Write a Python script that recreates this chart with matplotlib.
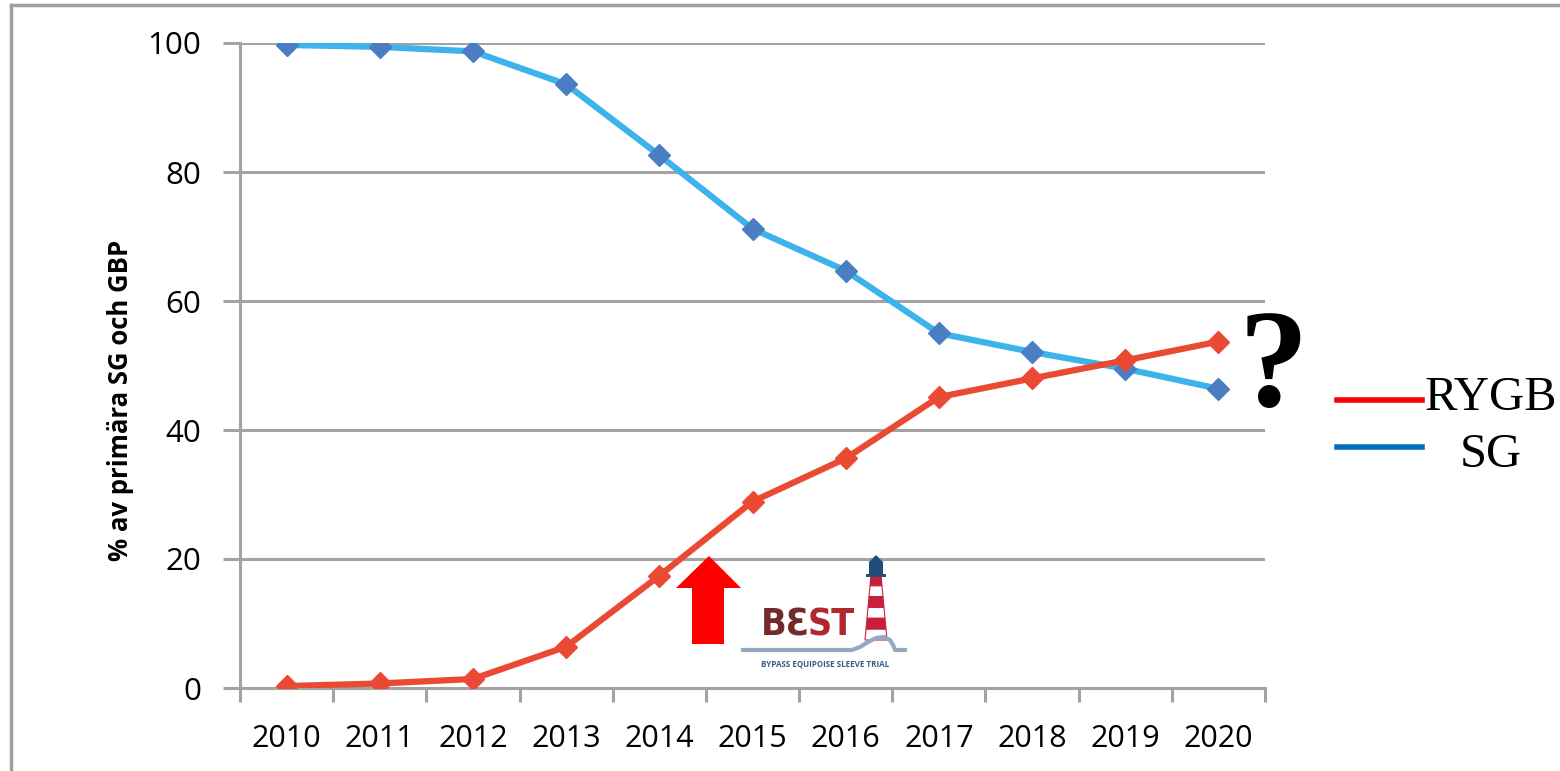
import matplotlib
matplotlib.use("Agg")
import matplotlib.pyplot as plt
from matplotlib.patches import Polygon, Rectangle
from matplotlib.lines import Line2D
import numpy as np

years = ["2010", "2011", "2012", "2013", "2014", "2015", "2016", "2017", "2018", "2019", "2020"]
rygb = [0.3, 0.7, 1.4, 6.4, 17.4, 28.9, 35.6, 45.1, 48.0, 50.8, 53.7]
sg = [99.7, 99.4, 98.7, 93.6, 82.6, 71.2, 64.7, 55.0, 52.1, 49.5, 46.4]
yticks = [0, 20, 40, 60, 80, 100]
legend_labels = ["RYGB", "SG"]

W, H = 1560, 771
fig = plt.figure(figsize=(15.6, 7.71), dpi=100)

def fx(px):
    return px / W

def fy(py):
    return 1 - py / H

ax = fig.add_axes([fx(240), fy(688), fx(1265) - fx(240), fy(43) - fy(688)])
x = np.arange(len(years))
grid_c = "#A3A3A3"

ax.set_xlim(-0.5, len(years) - 0.5)
ax.set_ylim(0, 100)
for v in yticks[1:]:
    ax.axhline(v, color=grid_c, lw=2.2, zorder=1)

ax.plot(x, sg, color="#3DB3EB", lw=4.5, zorder=3, solid_joinstyle="round")
ax.plot(x, sg, ls="none", marker="D", ms=11, color="#4A7DC2", zorder=4)
ax.plot(x, rygb, color="#EA4A34", lw=4.5, zorder=3, solid_joinstyle="round")
ax.plot(x, rygb, ls="none", marker="D", ms=11, color="#EA4A34", zorder=4)

for s in ["top", "right"]:
    ax.spines[s].set_visible(False)
for s in ["left", "bottom"]:
    ax.spines[s].set_color(grid_c)
    ax.spines[s].set_linewidth(2.2)

ax.set_yticks(yticks)
ax.set_yticklabels([str(v) for v in yticks], fontfamily="Open Sans", fontsize=22.5)
ax.tick_params(axis="y", length=12, width=2.2, color=grid_c, pad=16)
ax.set_xticks(x)
ax.set_xticklabels(years, fontfamily="Open Sans", fontsize=22)
ax.set_xticks(np.arange(len(years) + 1) - 0.5, minor=True)
ax.tick_params(axis="x", which="major", length=0, pad=26)
ax.tick_params(axis="x", which="minor", length=10, width=2.2, color=grid_c)

fig.text(fx(120), fy(400), "% av primära SG och GBP", rotation=90, ha="center", va="center",
         fontfamily="Open Sans", fontweight="bold", fontsize=18.5)

# border
fig.add_artist(Line2D([fx(11), fx(11)], [0, fy(5)], color="#A0A0A0", lw=2.5))
fig.add_artist(Line2D([fx(11), 1], [fy(5), fy(5)], color="#A0A0A0", lw=2.5))

# question mark
fig.text(fx(1273), fy(372), "?", ha="center", va="center", fontfamily="Liberation Serif",
         fontweight="bold", fontsize=100)

# legend
leg_cols = ["#FF0000", "#0070C0"]
leg_y = [400, 447]
for lab, c, yy in zip(legend_labels, leg_cols, leg_y):
    fig.add_artist(Line2D([fx(1337), fx(1422)], [fy(yy), fy(yy)], color=c, lw=4))
fig.text(fx(1491), fy(398), legend_labels[0], ha="center", va="center",
         fontfamily="Liberation Serif", fontsize=35)
fig.text(fx(1491), fy(455), legend_labels[1], ha="center", va="center",
         fontfamily="Liberation Serif", fontsize=35)

# red arrow
arrow = Polygon([(fx(692), fy(644)), (fx(724), fy(644)), (fx(724), fy(588)), (fx(741), fy(588)),
                 (fx(709), fy(556)), (fx(676), fy(588)), (fx(692), fy(588))],
                closed=True, facecolor="#FF0000", edgecolor="none", transform=fig.transFigure)
fig.add_artist(arrow)

# BEST logo
fig.text(fx(785), fy(626), "BƐ", ha="center", va="center", fontfamily="DejaVu Sans",
         fontstretch="condensed", fontweight="bold", fontsize=27, color="#742A2A")
fig.text(fx(831), fy(626), "ST", ha="center", va="center", fontfamily="DejaVu Sans",
         fontstretch="condensed", fontweight="bold", fontsize=27, color="#B0282E")
# lighthouse tower with stripes
top_y, bot_y = 575, 640
n_str = 6
cx = 876
for i in range(n_str):
    y0 = top_y + (bot_y - top_y) * i / n_str
    y1 = top_y + (bot_y - top_y) * (i + 1) / n_str
    h0 = 5 + 6 * (y0 - top_y) / (bot_y - top_y)
    h1 = 5 + 6 * (y1 - top_y) / (bot_y - top_y)
    poly = Polygon([(fx(cx - h0), fy(y0)), (fx(cx + h0), fy(y0)),
                    (fx(cx + h1), fy(y1)), (fx(cx - h1), fy(y1))],
                   closed=True, transform=fig.transFigure,
                   facecolor="#C8203A" if i % 2 == 0 else "#FFFFFF",
                   edgecolor="#C8203A", lw=0.8)
    fig.add_artist(poly)
fig.add_artist(Rectangle((fx(869), fy(575)), fx(14), fy(562) - fy(575), transform=fig.transFigure,
                         facecolor="#1F4E79", edgecolor="none"))
fig.add_artist(Polygon([(fx(869), fy(562)), (fx(883), fy(562)), (fx(876), fy(555))], closed=True,
                       transform=fig.transFigure, facecolor="#1F4E79", edgecolor="none"))
fig.add_artist(Rectangle((fx(866), fy(577)), fx(20), fy(574) - fy(577), transform=fig.transFigure,
                         facecolor="#1F4E79", edgecolor="none"))
# wave
wx = [743, 852, 860, 868, 876, 884, 890, 893, 895, 905]
wy = [650, 650, 647, 642, 638, 637, 640, 645, 650, 650]
fig.add_artist(Line2D([fx(v) for v in wx], [fy(v) for v in wy], color="#94A8C0", lw=3))
fig.text(fx(825), fy(664), "BYPASS EQUIPOISE SLEEVE TRIAL", ha="center", va="center",
         fontfamily="Open Sans", fontweight="bold", fontsize=5.8, color="#3A5C80")

fig.savefig("out.png", dpi=100)
